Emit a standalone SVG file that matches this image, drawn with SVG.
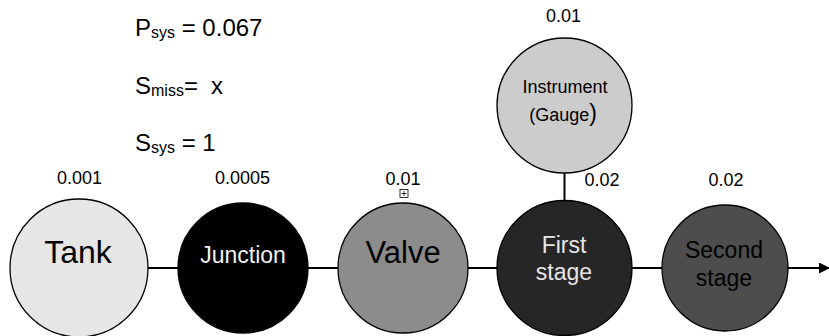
<svg xmlns="http://www.w3.org/2000/svg" width="829" height="336" viewBox="0 0 829 336">
<defs>
<marker id="arrow" markerWidth="11" markerHeight="11" refX="10" refY="5.5" orient="auto" markerUnits="userSpaceOnUse">
<path d="M0,0 L11,5.5 L0,11 z" fill="#000"/>
</marker>
<style>
text{font-family:"Liberation Sans",Arial,Helvetica,sans-serif;fill:#000}
.node{stroke:#000;stroke-width:1.3}
.lbl{font-size:18px;text-anchor:middle}
.eq{font-size:24px}
.sub{font-size:16px}
.mid{text-anchor:middle}
.edge{stroke:#000;stroke-width:2;fill:none}
</style>
</defs>
<rect width="829" height="336" fill="#fff"/>
<g id="formulas">
<text class="eq" x="135" y="36">P<tspan class="sub" dy="2">sys</tspan><tspan dy="-2"> = 0.067</tspan></text>
<text class="eq" x="135" y="94">S<tspan class="sub" dy="2">miss</tspan><tspan dy="-2">=</tspan><tspan x="211">x</tspan></text>
<text class="eq" x="135" y="151">S<tspan class="sub" dy="2">sys</tspan><tspan dy="-2"> = 1</tspan></text>
</g>
<g id="connectors">
<line class="edge" x1="148" y1="268" x2="178" y2="268"/>
<line class="edge" x1="308" y1="268" x2="338" y2="268"/>
<line class="edge" x1="468" y1="268" x2="497" y2="268"/>
<line class="edge" x1="632" y1="268" x2="662" y2="268"/>
<line class="edge" x1="788" y1="268" x2="829" y2="268" marker-end="url(#arrow)"/>
<line class="edge" x1="564.5" y1="173" x2="564.5" y2="201"/>
</g>
<g id="tank">
<circle class="node" cx="79" cy="268" r="69" fill="#e6e6e6"/>
<text class="mid" x="78" y="263" font-size="32">Tank</text>
<text class="lbl" x="79.5" y="184">0.001</text>
</g>
<g id="junction">
<circle class="node" cx="243" cy="268" r="65" fill="#000"/>
<text class="mid" x="243" y="263" font-size="23" style="fill:#f2f2f2">Junction</text>
<text class="lbl" x="242.5" y="184">0.0005</text>
</g>
<g id="valve">
<circle class="node" cx="403" cy="268" r="65" fill="#8c8c8c"/>
<text class="mid" x="403" y="263" font-size="31">Valve</text>
<text class="lbl" x="403" y="185">0.01</text>
<rect x="400" y="189.5" width="8" height="8" fill="#fff" stroke="#000" stroke-width="0.8"/>
<path d="M404,191 V196 M401.5,193.5 H406.5" stroke="#000" stroke-width="0.8"/>
</g>
<g id="first-stage">
<circle class="node" cx="564.5" cy="268" r="67.5" fill="#262626"/>
<text class="mid" x="564" y="253" font-size="23" style="fill:#e6e6e6">First</text>
<text class="mid" x="564" y="280" font-size="23" style="fill:#e6e6e6">stage</text>
<text class="lbl" x="602" y="186">0.02</text>
</g>
<g id="instrument">
<circle class="node" cx="564.5" cy="105.5" r="67.5" fill="#cccccc"/>
<text class="mid" x="565" y="93" font-size="18">Instrument</text>
<text class="mid" x="563" y="121" font-size="18">(Gauge<tspan font-size="23">)</tspan></text>
<text class="lbl" x="563.5" y="22">0.01</text>
</g>
<g id="second-stage">
<circle class="node" cx="725" cy="268" r="63" fill="#4d4d4d"/>
<text class="mid" x="724" y="258" font-size="23">Second</text>
<text class="mid" x="724" y="286" font-size="23">stage</text>
<text class="lbl" x="726" y="186">0.02</text>
</g>
</svg>
